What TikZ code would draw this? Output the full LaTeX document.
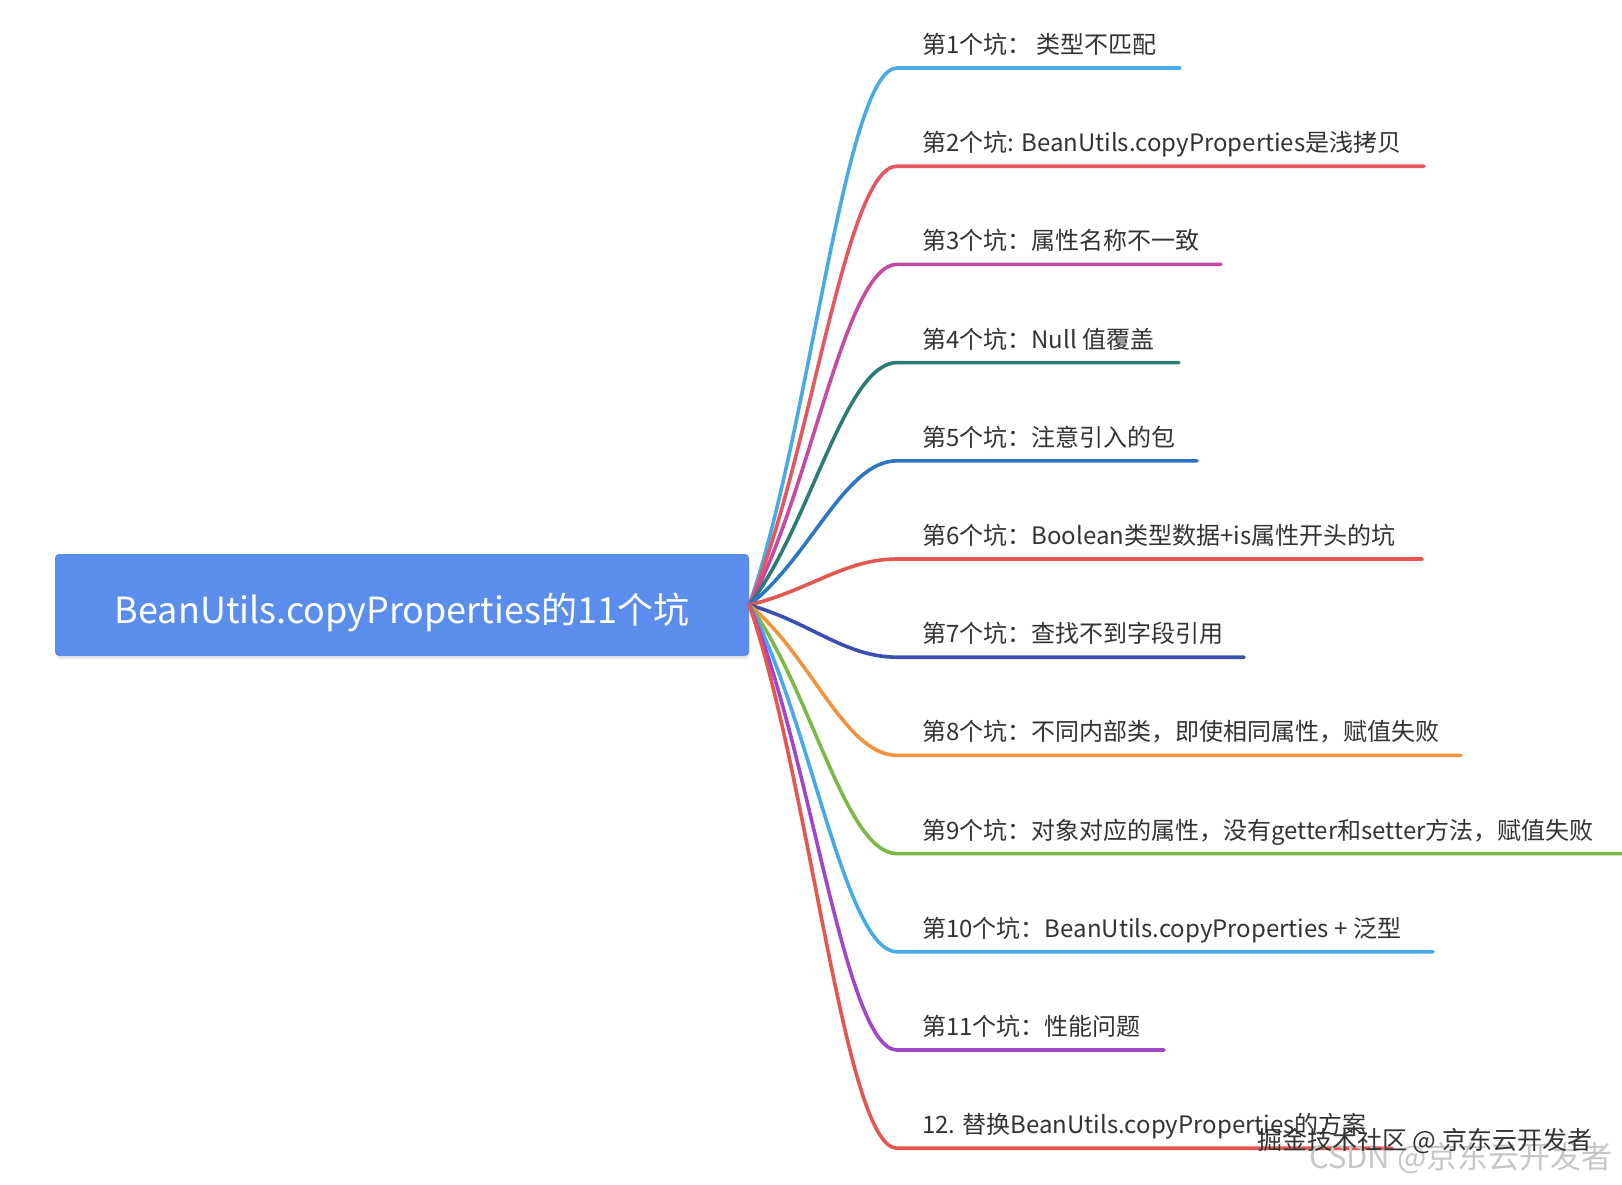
\documentclass[tikz,border=0pt]{standalone}
\usepackage{fontspec}
\setmainfont{Noto Sans CJK SC}
\definecolor{rootblue}{RGB}{91,141,236}
\definecolor{txt}{RGB}{51,51,51}
\definecolor{ca}{RGB}{74,170,230}
\definecolor{cb}{RGB}{228,86,96}
\definecolor{cc}{RGB}{198,74,160}
\definecolor{cd}{RGB}{42,125,118}
\definecolor{ce}{RGB}{46,118,196}
\definecolor{cf}{RGB}{228,86,80}
\definecolor{cg}{RGB}{58,78,180}
\definecolor{ch}{RGB}{240,146,62}
\definecolor{ci}{RGB}{124,184,72}
\definecolor{cj}{RGB}{70,170,232}
\definecolor{ck}{RGB}{160,70,200}
\definecolor{cl}{RGB}{228,86,80}
\tikzset{
  rootbox/.style={fill=rootblue, rounded corners=4pt, minimum width=694pt, minimum height=102pt,
    inner sep=0pt, text height=40pt, text depth=3pt, text=white, font=\fontsize{36}{40}\selectfont},
  lbl/.style={anchor=base west, inner sep=0pt, text=txt, font=\fontsize{24}{28}\selectfont},
  brline/.style={line width=3.6pt, line cap=round},
  wmA/.style={anchor=base west, inner sep=0pt, text=black!80, font=\fontsize{25}{28}\selectfont},
  wmB/.style={anchor=base west, inner sep=0pt, text=black!22, font=\fontsize{31}{34}\selectfont},
}
\newcommand\mybranch[5]{%
  \coordinate (s#1) at (897,#2);
  \coordinate (e#1) at (#3,#2);
  \node[lbl] (l#1) at (922,{#2-14.5}) {#5};
  \draw[brline,#4] (root.east) .. controls (810,{605+0.325*(#2-605)}) and (845,#2) .. (s#1) -- (e#1);
}
\begin{document}
\begin{tikzpicture}[x=1pt,y=-1pt]
\useasboundingbox (0,0) rectangle (1622,1184);
\fill[white] (0,0) rectangle (1622,1184);
\fill[black!8, rounded corners=4pt] (56,558) rectangle (750,659);
\node[rootbox] (root) at (402,605) {BeanUtils.copyProperties的11个坑};
\mybranch{1}{68}{1180}{ca}{第1个坑： 类型不匹配}
\mybranch{2}{166.2}{1424}{cb}{第2个坑: BeanUtils.copyProperties是浅拷贝}
\mybranch{3}{264.4}{1221}{cc}{第3个坑：属性名称不一致}
\mybranch{4}{362.6}{1179}{cd}{第4个坑：Null 值覆盖}
\mybranch{5}{460.8}{1197}{ce}{第5个坑：注意引入的包}
\mybranch{6}{559}{1422}{cf}{第6个坑：Boolean类型数据+is属性开头的坑}
\mybranch{7}{657.2}{1244}{cg}{第7个坑：查找不到字段引用}
\mybranch{8}{755.4}{1461}{ch}{第8个坑：不同内部类，即使相同属性，赋值失败}
\mybranch{9}{853.6}{1622}{ci}{第9个坑：对象对应的属性，没有getter和setter方法，赋值失败}
\mybranch{10}{951.8}{1433}{cj}{第10个坑：BeanUtils.copyProperties + 泛型}
\mybranch{11}{1050}{1164}{ck}{第11个坑：性能问题}
\mybranch{12}{1148.2}{1392}{cl}{12. 替换BeanUtils.copyProperties的方案}
\node[wmB] (wm2) at (1309,1168) {CSDN @京东云开发者};
\node[wmA] (wm1) at (1257,1149) {掘金技术社区 @ 京东云开发者};
\end{tikzpicture}
\end{document}
